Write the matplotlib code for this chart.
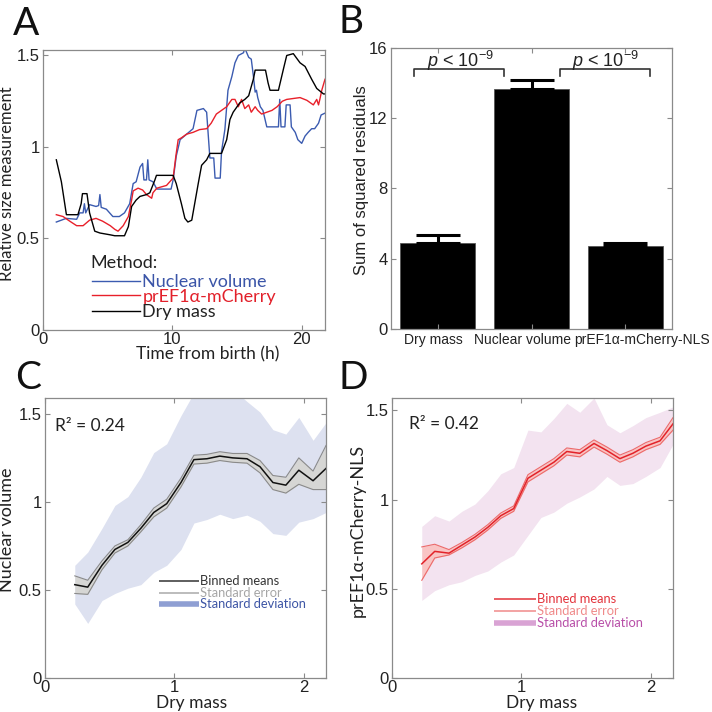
import matplotlib
matplotlib.use("Agg")
import matplotlib.pyplot as plt
import numpy as np

plt.rcParams['font.family'] = ['Liberation Sans', 'DejaVu Sans']
plt.rcParams['mathtext.fontset'] = 'custom'
plt.rcParams['mathtext.rm'] = 'Liberation Sans'
plt.rcParams['mathtext.it'] = 'Liberation Sans:italic'

MYRIAD = ['Lato', 'DejaVu Sans']

# ---- panel A: traces over time (h)
t_dry = [1.03, 1.42, 1.81, 2.7, 2.95, 3.05, 3.4, 3.6, 4.0, 4.4,
         5.2, 5.55, 6.3, 6.6, 6.85, 7.2, 7.5, 8.0, 8.26, 8.65,
         8.77, 10.06, 10.3, 10.7, 10.97, 11.2, 11.5, 11.7, 12.0, 12.26,
         12.65, 12.9, 13.8, 14.2, 14.45, 14.7, 15.2, 15.6, 15.9, 16.26,
         16.4, 17.2, 17.4, 17.55, 18.2, 18.6, 18.84, 19.35, 19.87, 20.26,
         20.77, 21.16, 21.68, 21.8]
v_dry = [0.93, 0.81, 0.63, 0.63, 0.69, 0.745, 0.745, 0.64, 0.54, 0.53,
         0.52, 0.515, 0.515, 0.565, 0.675, 0.71, 0.73, 0.74, 0.75, 0.82,
         0.845, 0.845, 0.80, 0.69, 0.61, 0.59, 0.60, 0.68, 0.80, 0.90,
         0.93, 0.965, 0.965, 1.04, 1.15, 1.19, 1.24, 1.26, 1.28, 1.37,
         1.42, 1.42, 1.35, 1.31, 1.31, 1.43, 1.50, 1.51, 1.46, 1.44,
         1.37, 1.32, 1.29, 1.29]

t_nuc = [1.03, 1.8, 2.6, 2.84, 3.1, 3.2, 3.3, 3.6, 4.1, 4.3,
         4.4, 4.5, 4.9, 5.4, 5.9, 6.3, 6.7, 6.97, 7.2, 7.5,
         7.7, 7.8, 8.0, 8.1, 8.2, 8.5, 8.8, 9.9, 10.06, 10.3,
         10.6, 11.1, 11.6, 11.9, 12.4, 12.65, 12.8, 12.9, 13.2, 13.3,
         13.7, 13.8, 14.06, 14.3, 14.6, 14.84, 15.1, 15.5, 15.6, 15.9,
         16.1, 16.26, 16.4, 16.5, 16.6, 16.8, 17.0, 17.3, 18.2, 18.3,
         18.4, 18.7, 18.8, 19.1, 19.2, 19.5, 19.7, 20.0, 20.26, 20.5,
         20.77, 21.0, 21.3, 21.5, 21.8]
v_nuc = [0.59, 0.61, 0.605, 0.64, 0.64, 0.69, 0.64, 0.685, 0.675, 0.68,
         0.74, 0.67, 0.66, 0.62, 0.62, 0.64, 0.69, 0.80, 0.81, 0.89,
         0.91, 0.82, 0.82, 0.93, 0.82, 0.81, 0.77, 0.77, 0.82, 0.95,
         1.04, 1.07, 1.10, 1.20, 1.21, 1.19, 1.04, 0.94, 0.94, 0.83,
         0.83, 0.975, 1.095, 1.31, 1.385, 1.46, 1.50, 1.515, 1.54, 1.49,
         1.48, 1.39, 1.30, 1.31, 1.27, 1.22, 1.20, 1.11, 1.11, 1.26,
         1.11, 1.11, 1.23, 1.23, 1.11, 1.08, 1.04, 1.02, 1.06, 1.08,
         1.10, 1.10, 1.13, 1.175, 1.185]

t_mch = [1.03, 1.55, 2.06, 2.6, 3.1, 3.6, 4.1, 4.6, 5.2, 5.55,
         5.8, 6.2, 6.6, 6.85, 6.97, 7.35, 7.7, 8.0, 8.4, 8.5,
         8.8, 9.3, 9.55, 9.8, 10.06, 10.27, 10.45, 10.7, 11.1, 11.6,
         12.1, 12.65, 13.0, 13.4, 13.8, 14.2, 14.6, 14.84, 15.1, 15.35,
         15.6, 15.9, 16.1, 16.4, 16.6, 16.9, 17.3, 17.7, 18.1, 18.5,
         18.84, 19.35, 19.87, 20.4, 20.9, 21.16, 21.3, 21.4, 21.55, 21.8]
v_mch = [0.63, 0.62, 0.595, 0.57, 0.57, 0.60, 0.61, 0.595, 0.57, 0.55,
         0.54, 0.57, 0.62, 0.71, 0.76, 0.775, 0.765, 0.74, 0.72, 0.75,
         0.775, 0.785, 0.79, 0.81, 0.83, 0.95, 1.04, 1.05, 1.07, 1.08,
         1.095, 1.10, 1.13, 1.18, 1.20, 1.22, 1.26, 1.26, 1.22, 1.26,
         1.21, 1.23, 1.19, 1.22, 1.20, 1.18, 1.19, 1.20, 1.22, 1.25,
         1.26, 1.265, 1.27, 1.255, 1.23, 1.26, 1.23, 1.26, 1.31, 1.37]

# ---- panel B: sum of squared residuals
methods = ['Dry mass', 'Nuclear volume', 'prEF1\u03b1-mCherry-NLS']
ssr = [4.88, 13.68, 4.75]
ssr_err = [0.48, 0.48, 0.15]
label_x = [0.95, 1.90, 3.18]  # where the category names sit under the bars

# ---- panels C/D: binned means vs dry mass
bins = [0.23, 0.33, 0.44, 0.54, 0.64, 0.74, 0.84, 0.94, 1.05, 1.15,
        1.25, 1.35, 1.45, 1.56, 1.66, 1.76, 1.86, 1.96, 2.07, 2.17]

nuc_mean = [0.53, 0.516, 0.64, 0.73, 0.77, 0.85, 0.94, 0.99, 1.11, 1.24,
            1.245, 1.26, 1.25, 1.245, 1.20, 1.11, 1.095, 1.18, 1.12, 1.19]
nuc_se_hi = [0.58, 0.555, 0.665, 0.75, 0.785, 0.87, 0.965, 1.015, 1.135, 1.265,
             1.27, 1.285, 1.275, 1.275, 1.235, 1.15, 1.14, 1.25, 1.175, 1.32]
nuc_se_lo = [0.48, 0.475, 0.615, 0.71, 0.75, 0.83, 0.915, 0.965, 1.085, 1.215,
             1.22, 1.235, 1.225, 1.22, 1.165, 1.07, 1.05, 1.10, 1.07, 1.07]
nuc_sd_hi = [0.64, 0.715, 0.85, 0.98, 1.03, 1.14, 1.28, 1.33, 1.49, 1.62,
             1.66, 1.66, 1.64, 1.57, 1.51, 1.41, 1.385, 1.48, 1.35, 1.45]
nuc_sd_lo = [0.42, 0.31, 0.44, 0.48, 0.51, 0.53, 0.60, 0.64, 0.73, 0.88,
             0.90, 0.93, 0.905, 0.925, 0.89, 0.82, 0.81, 0.885, 0.905, 0.94]

mch_mean = [0.64, 0.71, 0.70, 0.745, 0.79, 0.845, 0.91, 0.95, 1.12, 1.165,
            1.21, 1.27, 1.26, 1.315, 1.275, 1.23, 1.26, 1.30, 1.33, 1.425]
mch_se_hi = [0.735, 0.75, 0.72, 0.76, 0.805, 0.86, 0.925, 0.965, 1.14, 1.185,
             1.23, 1.29, 1.28, 1.335, 1.295, 1.25, 1.28, 1.32, 1.35, 1.46]
mch_se_lo = [0.548, 0.673, 0.69, 0.73, 0.775, 0.83, 0.895, 0.935, 1.10, 1.145,
             1.19, 1.25, 1.24, 1.295, 1.255, 1.21, 1.24, 1.28, 1.31, 1.39]
mch_sd_hi = [0.85, 0.91, 0.88, 0.935, 0.975, 1.05, 1.145, 1.18, 1.39, 1.38,
             1.455, 1.54, 1.49, 1.57, 1.42, 1.375, 1.415, 1.46, 1.49, 1.52]
mch_sd_lo = [0.435, 0.49, 0.523, 0.54, 0.575, 0.60, 0.65, 0.69, 0.80, 0.90,
             0.93, 0.98, 1.015, 1.06, 1.13, 1.08, 1.09, 1.13, 1.18, 1.31]

SPINE = '#8a8a8a'
TXT = '#222222'


def style_axes(ax):
    for s in ax.spines.values():
        s.set_color(SPINE)
        s.set_linewidth(0.9)
    ax.tick_params(direction='in', length=3.5, width=0.8, color=SPINE,
                   top=True, right=True, labelsize=12, labelcolor=TXT, pad=2.5)
    ax.tick_params(axis='x', pad=1.5)


fig = plt.figure(figsize=(7.12, 7.12), dpi=100)
W = 712.0


def add_axes(left, top, w, h):
    return fig.add_axes([left / W, 1 - (top + h) / W, w / W, h / W])


# ---------------- A
axA = add_axes(43, 50, 282, 280)
axA.plot(t_nuc, v_nuc, color='#3b5bb0', lw=1.0)
axA.plot(t_mch, v_mch, color='#e8202a', lw=1.0)
axA.plot(t_dry, v_dry, color='black', lw=1.0)
axA.set_xlim(0, 21.8)
axA.set_ylim(0, 1.53)
axA.set_xticks([0, 10, 20])
axA.set_yticks([0, 0.5, 1, 1.5])
axA.set_yticklabels(['0', '0.5', '1', '1.5'])
style_axes(axA)
axA.set_xlabel('Time from birth (h)', fontsize=12.5, family=MYRIAD, color=TXT)
axA.xaxis.set_label_coords(0.585, -0.06)
axA.set_ylabel('Relative size measurement', fontsize=12, family=MYRIAD, color=TXT)
axA.yaxis.set_label_coords(-0.1, 0.523)

axA.text(0.167, 0.22, 'Method:', transform=axA.transAxes, fontsize=13,
         family=MYRIAD, color=TXT, va='baseline')
leg_rows = [('Nuclear volume', '#3b5bb0', '#3b55a8', 0.175, 0.155),
            ('prEF1\u03b1-mCherry', '#e8202a', '#e2202a', 0.125, 0.101),
            ('Dry mass', 'black', TXT, 0.068, 0.0475)]
for lab, lc, tc, ly, ty in leg_rows:
    axA.plot([0.174, 0.344], [ly, ly], color=lc, lw=1.0, transform=axA.transAxes)
    axA.text(0.352, ty, lab, transform=axA.transAxes, fontsize=13,
             family=MYRIAD, color=tc, va='baseline')

# ---------------- B
axB = add_axes(391, 48, 281, 281)
xpos = np.arange(1, len(methods) + 1)
axB.bar(xpos, ssr, width=0.8, color='black', edgecolor='#555555', linewidth=0.6)
axB.errorbar(xpos, ssr, yerr=[np.zeros(len(ssr)), ssr_err], fmt='none',
             ecolor='black', elinewidth=2.2, capsize=15.5, capthick=2.2)
axB.set_xlim(0.5, 3.5)
axB.set_ylim(0, 16)
axB.set_yticks([0, 4, 8, 12, 16])
axB.set_xticks(xpos)
style_axes(axB)
axB.set_xticklabels([])
for lx, lab in zip(label_x, methods):
    axB.text(lx, -0.014, lab, transform=axB.get_xaxis_transform(), ha='center',
             va='top', fontsize=10, color=TXT)
axB.set_ylabel('Sum of squared residuals', fontsize=12, color=TXT)
axB.yaxis.set_label_coords(-0.078, 0.53)

brackets = [(0.75, 1.71), (2.30, 3.26)]
for x0, x1 in brackets:
    axB.plot([x0, x0, x1, x1], [14.4, 14.8, 14.8, 14.4], color='#333333', lw=1.2)
    axB.text((x0 + x1) / 2 + 0.01, 14.9, r'$p$ < 10$^{-9}$', ha='center',
             va='baseline', fontsize=13, color=TXT)


# ---------------- C / D
def binned_panel(ax, mean, se_lo, se_hi, sd_lo, sd_hi, sd_col, se_fill, se_edge,
                 mean_col, ylim_top):
    ax.fill_between(bins, sd_lo, sd_hi, color=sd_col, lw=0)
    ax.fill_between(bins, se_lo, se_hi, color=se_fill, lw=0)
    ax.plot(bins, se_lo, color=se_edge, lw=0.8)
    ax.plot(bins, se_hi, color=se_edge, lw=0.8)
    ax.plot(bins, mean, color=mean_col, lw=1.1)
    ax.set_xlim(0, 2.17)
    ax.set_ylim(0, ylim_top)
    ax.set_xticks([0, 1, 2])
    ax.set_yticks([0, 0.5, 1, 1.5])
    ax.set_yticklabels(['0', '0.5', '1', '1.5'])
    style_axes(ax)


axC = add_axes(45, 398, 281, 280)
binned_panel(axC, nuc_mean, nuc_se_lo, nuc_se_hi, nuc_sd_lo, nuc_sd_hi,
             '#dde1f0', '#d6d6d4', '#8a8a8a', '#111111', 1.59)
axC.set_xlabel('Dry mass', fontsize=12.5, family=MYRIAD, color=TXT)
axC.xaxis.set_label_coords(0.522, -0.06)
axC.set_ylabel('Nuclear volume', fontsize=13, family=MYRIAD, color=TXT)
axC.yaxis.set_label_coords(-0.105, 0.53)
axC.text(0.036, 0.883, 'R\u00b2 = 0.24', transform=axC.transAxes, fontsize=12.5,
         family=MYRIAD, color=TXT, va='baseline')
c_leg = [('Binned means', '#333333', 1.1, '#333333', 0.3475),
         ('Standard error', '#aaaaaa', 1.1, '#a6a6a6', 0.305),
         ('Standard deviation', '#8f9fd3', 4.0, '#3d55a5', 0.266)]
for lab, lc, lw, tc, y in c_leg:
    axC.plot([0.406, 0.549], [y, y], color=lc, lw=lw, transform=axC.transAxes,
             solid_capstyle='butt')
    axC.text(0.552, y, lab, transform=axC.transAxes, fontsize=9.3, family=MYRIAD,
             color=tc, va='center')

axD = add_axes(392, 398, 281, 280)
binned_panel(axD, mch_mean, mch_se_lo, mch_se_hi, mch_sd_lo, mch_sd_hi,
             '#f3e3f0', '#f9c4c4', '#ec6a6a', '#e2232a', 1.57)
axD.set_xlabel('Dry mass', fontsize=12.5, family=MYRIAD, color=TXT)
axD.xaxis.set_label_coords(0.532, -0.06)
axD.set_ylabel('prEF1\u03b1-mCherry-NLS', fontsize=13, family=MYRIAD, color=TXT)
axD.yaxis.set_label_coords(-0.092, 0.526)
axD.text(0.06, 0.888, 'R\u00b2 = 0.42', transform=axD.transAxes, fontsize=12.5,
         family=MYRIAD, color=TXT, va='baseline')
d_leg = [('Binned means', '#e3333b', 1.1, '#e3333b', 0.283),
         ('Standard error', '#f08a8a', 1.1, '#f08a8a', 0.24),
         ('Standard deviation', '#d9a3d4', 4.0, '#b84fa8', 0.197)]
for lab, lc, lw, tc, y in d_leg:
    axD.plot([0.363, 0.512], [y, y], color=lc, lw=lw, transform=axD.transAxes,
             solid_capstyle='butt')
    axD.text(0.515, y, lab, transform=axD.transAxes, fontsize=9.3, family=MYRIAD,
             color=tc, va='center')

# panel letters
for letter, x, y in [('A', 13, 35), ('B', 338, 33), ('C', 15, 389), ('D', 338, 389)]:
    fig.text(x / W, 1 - y / W, letter, fontsize=28, family=MYRIAD, color='#111111',
             va='baseline', ha='left')

fig.savefig('out.png', dpi=100)
